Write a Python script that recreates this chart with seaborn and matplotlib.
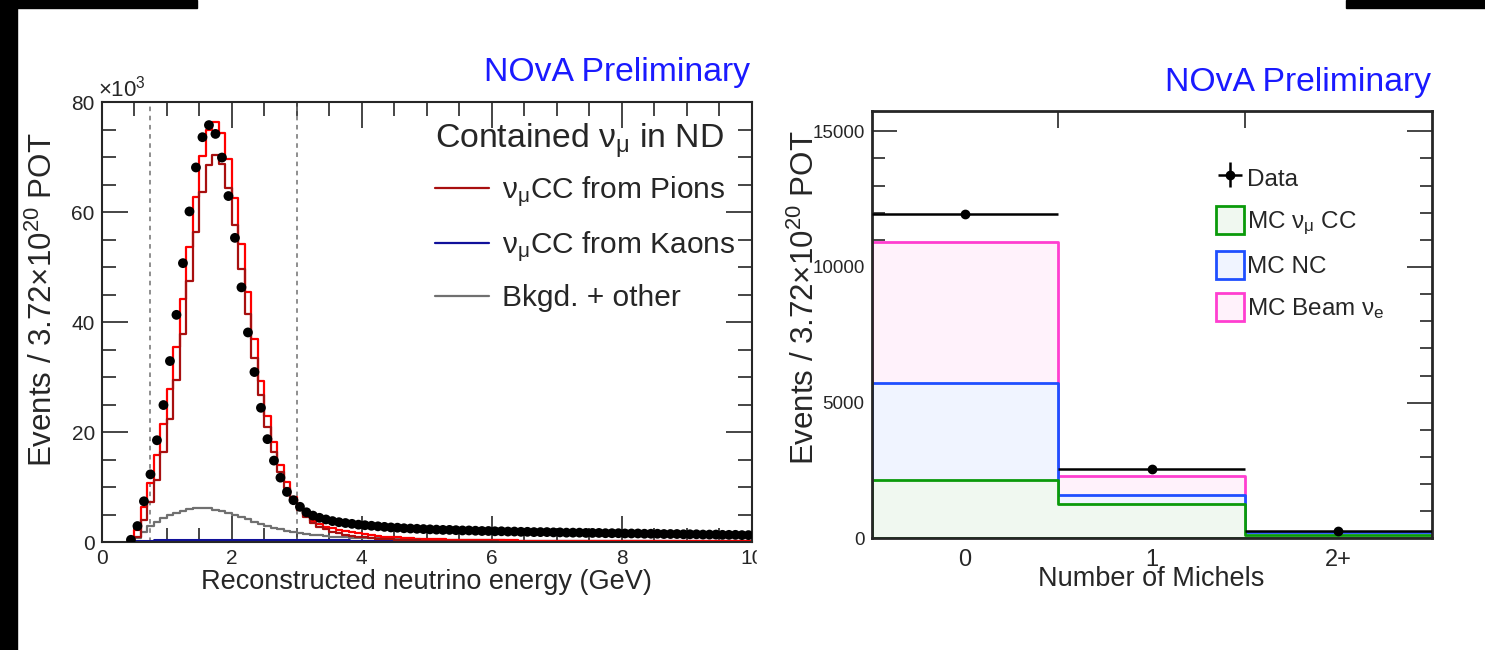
import numpy as np
import matplotlib
matplotlib.use("Agg")
import matplotlib.pyplot as plt
import seaborn as sns
from matplotlib.lines import Line2D
from matplotlib.patches import Patch, Rectangle
from matplotlib.ticker import MultipleLocator, FixedLocator

# ---------------- left panel: reconstructed energy (values in 10^3 events) ----------------
# bins of 0.1 GeV starting at 0.4 GeV
data_events = [0.4, 2.9, 7.4, 12.3, 18.5, 24.9,
               32.9, 41.3, 50.7, 60.1, 68.1, 73.6, 75.8, 74.2, 69.9, 62.9,
               55.3, 46.3, 38.1, 30.9, 24.4, 18.7, 14.8, 11.7, 9.1, 7.6,
               6.4, 5.4, 4.8, 4.4, 4.1, 3.8, 3.6, 3.45, 3.3, 3.15,
               3.05, 2.95, 2.85, 2.75, 2.65, 2.6, 2.5, 2.45, 2.4, 2.35,
               2.3, 2.25, 2.2, 2.2, 2.15, 2.1, 2.1, 2.05, 2.0, 2.0,
               1.95, 1.95, 1.9, 1.9, 1.85, 1.85, 1.8, 1.8, 1.8, 1.75,
               1.75, 1.7, 1.7, 1.7, 1.65, 1.65, 1.65, 1.6, 1.6, 1.6,
               1.55, 1.55, 1.55, 1.5, 1.5, 1.5, 1.45, 1.45, 1.45, 1.4,
               1.4, 1.4, 1.35, 1.35, 1.35, 1.3, 1.3, 1.3, 1.25, 1.25]

total_mc = [0.2, 2.2, 6.4, 10.8, 15.8, 21.4,
            27.9, 35.4, 44.2, 53.7, 62.8, 70.1, 75.0, 76.4, 74.4, 69.6,
            62.5, 54.1, 45.4, 36.9, 29.3, 23.0, 18.2, 14.0, 11.0, 8.2,
            6.2, 4.9, 3.9, 3.2, 2.8, 2.5, 2.2, 1.95, 1.75, 1.55,
            1.4, 1.25, 1.12, 1.0, 0.9, 0.82, 0.74, 0.67, 0.61, 0.56,
            0.52, 0.49, 0.46, 0.43, 0.41, 0.39, 0.37, 0.35, 0.34, 0.32,
            0.31, 0.3, 0.29, 0.28, 0.27, 0.27, 0.26, 0.25, 0.25, 0.24,
            0.24, 0.23, 0.23, 0.22, 0.22, 0.21, 0.21, 0.21, 0.2, 0.2,
            0.2, 0.19, 0.19, 0.19, 0.18, 0.18, 0.18, 0.17, 0.17, 0.17,
            0.17, 0.16, 0.16, 0.16, 0.16, 0.15, 0.15, 0.15, 0.15, 0.14]

from_pions = [0.1, 1.0, 4.0, 7.3, 11.3, 16.3,
              22.3, 29.5, 37.9, 47.5, 56.4, 63.6, 68.5, 70.4, 68.8, 64.3,
              57.6, 49.6, 41.4, 33.5, 26.7, 21.0, 16.4, 12.8, 9.8, 7.6,
              5.8, 4.5, 3.5, 2.8, 2.3, 1.9, 1.6, 1.35, 1.15, 0.98,
              0.85, 0.73, 0.63, 0.55, 0.48, 0.42, 0.37, 0.33, 0.29, 0.26,
              0.23, 0.21, 0.19, 0.17, 0.15, 0.14, 0.13, 0.12, 0.11, 0.1,
              0.1, 0.09, 0.09, 0.08, 0.08, 0.08, 0.07, 0.07, 0.07, 0.07,
              0.06, 0.06, 0.06, 0.06, 0.06, 0.06, 0.06, 0.06, 0.06, 0.06,
              0.06, 0.06, 0.05, 0.05, 0.05, 0.05, 0.05, 0.05, 0.05, 0.05,
              0.05, 0.05, 0.05, 0.05, 0.05, 0.05, 0.05, 0.05, 0.05, 0.05]

from_kaons = [0.02, 0.1, 0.18, 0.24, 0.28, 0.3,
              0.32, 0.33, 0.34, 0.35, 0.35, 0.35, 0.35, 0.34, 0.34, 0.33,
              0.33, 0.32, 0.32, 0.31, 0.31, 0.3, 0.3, 0.3, 0.29, 0.29,
              0.29, 0.29, 0.28, 0.28, 0.28, 0.28, 0.28, 0.28, 0.27, 0.27,
              0.27, 0.27, 0.27, 0.27, 0.27, 0.27, 0.27, 0.26, 0.26, 0.26,
              0.26, 0.26, 0.26, 0.26, 0.26, 0.26, 0.26, 0.26, 0.26, 0.26,
              0.26, 0.26, 0.26, 0.26, 0.26, 0.26, 0.26, 0.26, 0.26, 0.26,
              0.26, 0.26, 0.26, 0.26, 0.26, 0.26, 0.26, 0.26, 0.26, 0.26,
              0.26, 0.26, 0.26, 0.26, 0.26, 0.26, 0.26, 0.26, 0.26, 0.26,
              0.26, 0.26, 0.26, 0.26, 0.26, 0.26, 0.26, 0.26, 0.26, 0.26]

bkgd_other = [0.1, 0.8, 1.9, 2.9, 3.7, 4.3,
              4.9, 5.3, 5.7, 6.0, 6.15, 6.2, 6.1, 5.9, 5.6, 5.3,
              4.9, 4.5, 4.1, 3.7, 3.3, 2.95, 2.6, 2.3, 2.05, 1.8,
              1.6, 1.45, 1.3, 1.2, 1.1, 1.0, 0.93, 0.87, 0.81, 0.76,
              0.72, 0.68, 0.64, 0.6, 0.57, 0.54, 0.51, 0.49, 0.47, 0.45,
              0.43, 0.41, 0.39, 0.37, 0.36, 0.34, 0.33, 0.32, 0.31, 0.3,
              0.29, 0.28, 0.27, 0.26, 0.25, 0.25, 0.24, 0.23, 0.23, 0.22,
              0.22, 0.21, 0.21, 0.2, 0.2, 0.19, 0.19, 0.19, 0.18, 0.18,
              0.18, 0.17, 0.17, 0.17, 0.16, 0.16, 0.16, 0.15, 0.15, 0.15,
              0.15, 0.14, 0.14, 0.14, 0.14, 0.13, 0.13, 0.13, 0.13, 0.12]

energy_edges = [round(v, 2) for v in np.arange(0.4, 10.05, 0.1)]
energy_centers = [round(v + 0.05, 3) for v in energy_edges[:-1]]
cut_lines = [0.75, 3.0]

# ---------------- right panel: number of Michel electrons ----------------
michel_labels = ["0", "1", "2+"]
michel_data = [11950, 2545, 280]
michel_err = [109, 50, 17]
mc_numu_cc = [2140, 1255, 140]
mc_nc = [3575, 342, 90]
mc_beam_nue = [5200, 711, 20]

sns.set_style("ticks")
plt.rcParams["font.family"] = ["Liberation Sans", "DejaVu Sans"]
plt.rcParams["mathtext.fontset"] = "custom"
plt.rcParams["mathtext.rm"] = "Liberation Sans"
plt.rcParams["mathtext.it"] = "Liberation Sans:italic"
plt.rcParams["mathtext.bf"] = "Liberation Sans:bold"
plt.rcParams["axes.linewidth"] = 1.5

W, H = 1485, 650
fig = plt.figure(figsize=(W / 100, H / 100), dpi=100)
fig.patch.set_facecolor("white")


def fx(px):
    return px / W


def fy(py):
    return 1 - py / H


ax1 = fig.add_axes([fx(101.7), fy(542), fx(751.7) - fx(101.7), fy(102) - fy(542)])
ax2 = fig.add_axes([fx(871.6), fy(538.3), fx(1431.7) - fx(871.6), fy(111) - fy(538.3)])

# ---- left panel ----
for vals, col, lw in [(bkgd_other, "#707070", 1.6),
                      (from_kaons, "#10109a", 2.2),
                      (total_mc, "#ff0000", 1.6),
                      (from_pions, "#a80f0f", 1.6)]:
    sns.histplot(x=energy_centers, weights=vals, bins=energy_edges, element="step",
                 fill=False, color=col, linewidth=lw, ax=ax1)

sns.scatterplot(x=energy_centers, y=data_events, color="black", s=50,
                edgecolor="none", ax=ax1, zorder=5)

for xc in cut_lines:
    ax1.axvline(xc, color="#707070", lw=1.1, ls=(0, (3, 3)), zorder=1)

ax1.set_xlim(0, 10)
ax1.set_ylim(0, 80)
ax1.set_xlabel("")
ax1.set_ylabel("")
ax1.xaxis.set_major_locator(MultipleLocator(2))
ax1.xaxis.set_minor_locator(MultipleLocator(0.5))
ax1.yaxis.set_major_locator(MultipleLocator(20))
ax1.yaxis.set_minor_locator(MultipleLocator(5))
ax1.tick_params(which="major", direction="in", length=19, width=1.2, top=True,
                right=True, labelsize=15, pad=5)
ax1.tick_params(which="minor", direction="in", length=10, width=1.2, top=True, right=True)
for sp in ax1.spines.values():
    sp.set_linewidth(1.5)

leg1 = ax1.legend(
    [Line2D([], [], color="#a80f0f", lw=1.6),
     Line2D([], [], color="#10109a", lw=1.6),
     Line2D([], [], color="#707070", lw=1.6)],
    ["ν$_\\mathrm{μ}$CC from Pions", "ν$_\\mathrm{μ}$CC from Kaons", "Bkgd. + other"],
    title="Contained ν$_\\mathrm{μ}$ in ND", loc="upper right",
    bbox_to_anchor=(1.0, 0.993), frameon=False, fontsize=21.5, title_fontsize=24.3,
    handlelength=1.8, handletextpad=0.45, labelspacing=0.68, alignment="left",
    borderaxespad=0.15)
leg1._legend_box.sep = 10

fig.text(fx(98), fy(96), "$\\times$10$^3$", fontsize=16, ha="left", va="baseline")

# ---- right panel (stacked) ----
stack_nc = np.array(mc_numu_cc) + np.array(mc_nc)
stack_nue = stack_nc + np.array(mc_beam_nue)
for tops, fc, ec in [(stack_nue, "#fff2fb", "#ff3fd0"),
                     (stack_nc, "#f0f4ff", "#1f4fff"),
                     (mc_numu_cc, "#f0f8f0", "#0a9a0a")]:
    sns.histplot(x=[0, 1, 2], weights=list(tops), discrete=True, element="step", fill=True,
                 facecolor=fc, edgecolor=ec, linewidth=2.0, ax=ax2)

eb = ax2.errorbar([0, 1, 2], michel_data, xerr=0.5, yerr=michel_err, fmt="o",
                  color="black", ms=6, lw=1.8, capsize=0, zorder=6)

ax2.set_xlim(-0.5, 2.5)
ax2.set_ylim(0, 15750)
ax2.set_xlabel("")
ax2.set_ylabel("")
ax2.set_xticks([0, 1, 2])
ax2.set_xticklabels(michel_labels)
ax2.xaxis.set_minor_locator(FixedLocator([0.5, 1.5]))
ax2.yaxis.set_major_locator(MultipleLocator(5000))
ax2.yaxis.set_minor_locator(MultipleLocator(1000))
ax2.tick_params(axis="x", which="major", length=0, labelsize=17, pad=8)
ax2.tick_params(axis="x", which="minor", direction="in", length=12, width=1.2, top=True)
ax2.tick_params(axis="y", which="major", direction="in", length=18, width=1.2,
                right=True, labelsize=13.5, pad=5)
ax2.tick_params(axis="y", which="minor", direction="in", length=9, width=1.2, right=True)
for sp in ax2.spines.values():
    sp.set_linewidth(2)

ax2.legend(
    [eb,
     Patch(facecolor="#f0f8f0", edgecolor="#0a9a0a", lw=2),
     Patch(facecolor="#f0f4ff", edgecolor="#1f4fff", lw=2),
     Patch(facecolor="#fff2fb", edgecolor="#ff3fd0", lw=2)],
    ["Data", "MC ν$_\\mathrm{μ}$ CC", "MC NC", "MC Beam ν$_\\mathrm{e}$"],
    loc="upper left", bbox_to_anchor=(0.597, 0.9), frameon=False, fontsize=17.5,
    handlelength=1.15, handleheight=1.4, handletextpad=0.12, labelspacing=0.58,
    borderaxespad=0)

# ---- texts ----
fig.text(fx(750), fy(72), "NOvA Preliminary", color="#1a1aff", fontsize=24.3,
         ha="right", va="center")
fig.text(fx(1431), fy(82), "NOvA Preliminary", color="#1a1aff", fontsize=24.3,
         ha="right", va="center")
ylab = "Events / 3.72$\\times$10$^{20}$ POT"
fig.text(fx(43), fy(300), ylab, rotation=90, fontsize=22.5, ha="center", va="center")
fig.text(fx(805), fy(298), ylab, rotation=90, fontsize=22.5, ha="center", va="center")
fig.text(fx(426), fy(589), "Reconstructed neutrino energy (GeV)", fontsize=19.5,
         ha="center", va="baseline")
fig.text(fx(1151), fy(586), "Number of Michels", fontsize=19.5, ha="center",
         va="baseline")

# page borders of the original slide
fig.add_artist(Rectangle((fx(757), fy(575)), fx(20), 30 / H, transform=fig.transFigure,
                         color="white", zorder=10))
fig.add_artist(Rectangle((0, 0), fx(16.7), 1, transform=fig.transFigure, color="black"))
fig.add_artist(Rectangle((0, fy(8)), fx(196.7), 8 / H, transform=fig.transFigure,
                         color="black"))
fig.add_artist(Rectangle((fx(1345.7), fy(8)), 1 - fx(1345.7), 8 / H,
                         transform=fig.transFigure, color="black"))

fig.savefig("out.png", dpi=100)
